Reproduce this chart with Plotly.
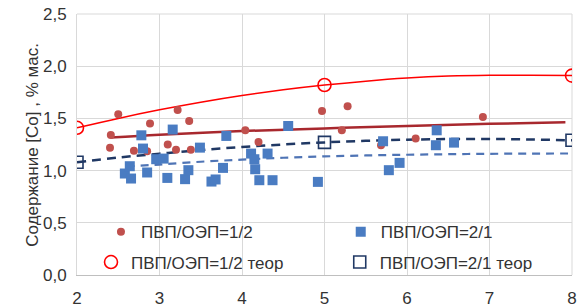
import plotly.graph_objects as go

# --- data ---
red_x = [2.40, 2.41, 2.50, 2.69, 2.85, 2.885, 3.10, 3.20, 3.22, 3.36, 3.38, 4.04, 4.20,
         4.97, 5.21, 5.28, 5.685, 6.105, 6.92]
red_y = [1.22, 1.34, 1.54, 1.19, 1.185, 1.45, 1.25, 1.20, 1.58, 1.475, 1.20, 1.386, 1.275,
         1.57, 1.386, 1.616, 1.243, 1.307, 1.513]

blue_x = [2.58, 2.64, 2.655, 2.78, 2.80, 2.85, 2.96, 3.05, 3.095, 3.16, 3.31, 3.35, 3.49,
          3.63, 3.68, 3.77, 3.81, 4.11, 4.15, 4.16, 4.21, 4.31, 4.37, 4.56, 4.92, 5.71,
          5.78, 5.91, 6.36, 6.35, 6.57]
blue_y = [0.972, 1.042, 0.924, 1.338, 1.211, 0.982, 1.109, 1.115, 0.93, 1.393, 0.918, 1.004,
          1.22, 0.895, 0.915, 1.026, 1.332, 1.163, 1.109, 1.013, 0.908, 1.163, 0.908, 1.427,
          0.892, 1.281, 1.004, 1.074, 1.386, 1.243, 1.268]

red_th_x = [2, 5, 8]
red_th_y = [1.41, 1.82, 1.91]
blue_th_x = [2, 5, 8]
blue_th_y = [1.08, 1.27, 1.29]

# curves
red_th_curve_x = [2, 2.5, 3, 3.5, 4, 4.5, 5, 5.5, 6, 6.5, 7, 7.5, 8]
red_th_curve_y = [1.41, 1.50, 1.582, 1.655, 1.719, 1.774, 1.82, 1.857, 1.886, 1.905, 1.913, 1.913, 1.91]
blue_th_curve_x = [2, 2.5, 3, 3.5, 4, 4.5, 5, 5.5, 6, 6.5, 7, 7.5, 8]
blue_th_curve_y = [1.08, 1.125, 1.162, 1.197, 1.226, 1.25, 1.27, 1.285, 1.296, 1.302, 1.303, 1.298, 1.29]

red_trend_x = [2.41, 3, 4, 5, 6, 7, 7.92]
red_trend_y = [1.316, 1.343, 1.379, 1.404, 1.428, 1.448, 1.463]
blue_trend_x = [2.6, 3, 3.5, 4, 4.5, 5, 5.5, 6, 6.5, 7, 7.5, 8]
blue_trend_y = [1.04, 1.058, 1.085, 1.105, 1.123, 1.136, 1.145, 1.152, 1.157, 1.161, 1.163, 1.164]

y_ticks = [0, 0.5, 1.0, 1.5, 2.0, 2.5]
y_tick_labels = ["0,0", "0,5", "1,0", "1,5", "2,0", "2,5"]
x_ticks = [2, 3, 4, 5, 6, 7, 8]

names = ["ПВП/ОЭП=1/2", "ПВП/ОЭП=2/1", "ПВП/ОЭП=1/2 теор", "ПВП/ОЭП=2/1 теор"]
y_title = "Содержание [Co] , % мас."

FONT = "Liberation Sans"
FS = 17
TXT = "#333333"
fig = go.Figure()

# lines (no legend)
fig.add_trace(go.Scatter(x=blue_trend_x, y=blue_trend_y, mode="lines", line_shape="spline",
                         line=dict(color="#4F74B5", width=2.2, dash="8px,6px"), showlegend=False, hoverinfo="skip"))
fig.add_trace(go.Scatter(x=red_trend_x, y=red_trend_y, mode="lines", line_shape="spline",
                         line=dict(color="#A8282E", width=2.5), showlegend=False, hoverinfo="skip"))
fig.add_trace(go.Scatter(x=blue_th_curve_x, y=blue_th_curve_y, mode="lines", line_shape="spline",
                         line=dict(color="#203864", width=2.5, dash="9px,6px"), showlegend=False, hoverinfo="skip"))
fig.add_trace(go.Scatter(x=red_th_curve_x, y=red_th_curve_y, mode="lines", line_shape="spline",
                         line=dict(color="#FF0000", width=1.5), showlegend=False, hoverinfo="skip"))

# markers
fig.add_trace(go.Scatter(x=red_x, y=red_y, mode="markers", name=names[0], legend="legend",
                         marker=dict(symbol="circle", size=8, color="#C0504D")))
fig.add_trace(go.Scatter(x=blue_x, y=blue_y, mode="markers", name=names[1], legend="legend2",
                         marker=dict(symbol="square", size=10, color="#4A7CC2")))
fig.add_trace(go.Scatter(x=red_th_x, y=red_th_y, mode="markers", name=names[2], legend="legend3",
                         marker=dict(symbol="circle-open", size=13, color="#FF0000", line=dict(width=1.6))))
fig.add_trace(go.Scatter(x=blue_th_x, y=blue_th_y, mode="markers", name=names[3], legend="legend4",
                         marker=dict(symbol="square-open", size=12, color="#203864", line=dict(width=1.6))))

grid = "#D9D9D9"
def leg(x, y):
    return dict(orientation="v", x=x, xanchor="left", y=y, yanchor="middle",
                bgcolor="rgba(0,0,0,0)", itemsizing="trace",
                font=dict(family=FONT, size=FS, color=TXT))

fig.update_layout(
    width=588, height=308,
    margin=dict(l=77, r=16, t=14, b=33, autoexpand=False),
    paper_bgcolor="white", plot_bgcolor="white",
    font=dict(family=FONT, size=FS, color=TXT),
    xaxis=dict(range=[2, 8], tickvals=x_ticks, showgrid=True, gridcolor=grid, gridwidth=1,
               zeroline=False, showline=True, linecolor="#BFBFBF", mirror=False,
               ticks="outside", ticklen=8, tickcolor="rgba(0,0,0,0)",
               tickfont=dict(family=FONT, size=FS, color=TXT)),
    yaxis=dict(range=[0, 2.5], tickvals=y_ticks, ticktext=y_tick_labels, showgrid=True,
               gridcolor=grid, gridwidth=1, zeroline=False, showline=True, linecolor=grid,
               ticks="outside", ticklen=6, tickcolor="rgba(0,0,0,0)",
               tickfont=dict(family=FONT, size=FS, color=TXT)),
    legend=leg(0.0484, 0.1644),
    legend2=leg(0.5328, 0.1644),
    legend3=leg(0.0283, 0.0478),
    legend4=leg(0.5308, 0.0478),
    annotations=[dict(text=y_title, textangle=-90, xref="paper", yref="paper",
                      x=-0.089, y=0.499, xanchor="center", yanchor="middle", showarrow=False,
                      font=dict(family=FONT, size=FS, color=TXT))],
)
# grid at the right and top edges
fig.add_shape(type="line", xref="paper", yref="paper", x0=1, x1=1, y0=0, y1=1, line=dict(color=grid, width=1), layer="below")
fig.add_shape(type="line", xref="paper", yref="paper", x0=0, x1=1, y0=1, y1=1, line=dict(color=grid, width=1), layer="below")

fig.write_html("out.html", config={"displayModeBar": False},
               post_script="document.body.style.margin='0px';")
